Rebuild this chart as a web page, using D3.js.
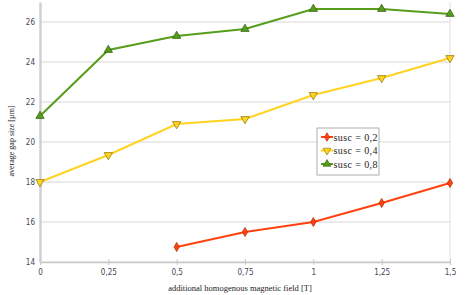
<!DOCTYPE html>
<html>
<head>
<meta charset="utf-8">
<script src="https://cdn.jsdelivr.net/npm/d3@7"></script>
<style>
body { margin: 0; background: #fff; }
</style>
</head>
<body>
<svg id="chart" width="465" height="295"></svg>
<script>
const fields = [0, 0.25, 0.5, 0.75, 1, 1.25, 1.5];
const xTickLabels = ["0", "0,25", "0,5", "0,75", "1", "1,25", "1,5"];
const yTicks = [14, 16, 18, 20, 22, 24, 26];
const susc02 = [null, null, 14.75, 15.5, 16, 16.95, 17.95];
const susc04 = [18, 19.35, 20.9, 21.15, 22.35, 23.2, 24.2];
const susc08 = [21.3, 24.6, 25.3, 25.65, 26.65, 26.65, 26.4];
const seriesNames = ["susc = 0,2", "susc = 0,4", "susc = 0,8"];
const colors = ["#ff420e", "#ffd320", "#579d1c"];
const strokes = ["#b02a05", "#8a7000", "#2e5a0c"];

let svg = d3.select("#chart");
let padding = { top: 2, right: 15, bottom: 33, left: 40 };
let width = +svg.attr("width");
let height = +svg.attr("height");

let xScale = d3.scaleLinear()
    .domain([0, 1.5])
    .range([padding.left, width - padding.right]);
let yScale = d3.scaleLinear()
    .domain([14, 27])
    .range([height - padding.bottom, padding.top]);

// grid
svg.append("g")
    .selectAll("line")
    .data(yTicks)
    .enter()
    .append("line")
      .attr("x1", padding.left)
      .attr("x2", width - padding.right)
      .attr("y1", d => yScale(d))
      .attr("y2", d => yScale(d))
      .attr("stroke", "#d6d6d6")
      .attr("stroke-width", 1);

svg.append("line")
    .attr("x1", xScale(1.5)).attr("x2", xScale(1.5))
    .attr("y1", yScale(27)).attr("y2", yScale(14))
    .attr("stroke", "#e0e0e0");

let xAxis = d3.axisBottom(xScale)
    .tickValues(fields)
    .tickFormat((d, i) => xTickLabels[i])
    .tickSize(3)
    .tickSizeOuter(0);
let gx = svg.append("g")
    .attr("transform", "translate(0," + yScale(14) + ")")
    .call(xAxis);
gx.select(".domain").attr("stroke", "#c8c8c8").attr("stroke-width", 1.5);
gx.selectAll(".tick line").attr("stroke", "#c8c8c8").attr("y1", -3).attr("y2", 3);
gx.selectAll("text")
    .attr("fill", "#445")
    .attr("dy", "0.9em")
    .style("font-family", "DejaVu Sans Condensed, DejaVu Sans")
    .style("font-size", "8px");

let yAxis = d3.axisLeft(yScale)
    .tickValues(yTicks)
    .tickSize(0)
    .tickPadding(5);
let gy = svg.append("g")
    .attr("transform", "translate(" + padding.left + ",0)")
    .call(yAxis);
gy.select(".domain").attr("stroke", "#d0d0d0").attr("stroke-width", 2.5);
gy.selectAll("text")
    .attr("fill", "#445")
    .style("font-family", "DejaVu Sans Condensed, DejaVu Sans")
    .style("font-size", "8px");

// axis titles
svg.append("text")
    .attr("x", 240)
    .attr("y", 291)
    .style("text-anchor", "middle")
    .style("font-family", "Liberation Serif")
    .style("font-size", "8.5px")
    .attr("fill", "#222")
    .text("additional homogenous magnetic field [T]");

svg.append("text")
    .attr("transform", "rotate(-90)")
    .attr("x", -141)
    .attr("y", 14)
    .style("text-anchor", "middle")
    .style("font-family", "Liberation Serif")
    .style("font-size", "8px")
    .attr("fill", "#222")
    .text("average gap size [µm]");

// series
let allSeries = [susc02, susc04, susc08];
let symbols = [d3.symbolDiamond, d3.symbolTriangle, d3.symbolTriangle];
let rotations = [0, 180, 0];

let line = d3.line()
    .defined(d => d[1] != null)
    .x(d => xScale(d[0]))
    .y(d => yScale(d[1]));

allSeries.forEach(function(vals, s) {
    let pts = fields.map((f, i) => [f, vals[i]]);
    svg.append("path")
        .datum(pts)
        .attr("fill", "none")
        .attr("stroke", colors[s])
        .attr("stroke-width", 2)
        .attr("d", line);
    svg.append("g")
        .selectAll("path")
        .data(pts.filter(d => d[1] != null))
        .enter()
        .append("path")
          .attr("d", d3.symbol().type(symbols[s]).size(s == 0 ? 24 : 30))
          .attr("transform", d => "translate(" + xScale(d[0]) + "," + yScale(d[1]) + ") rotate(" + rotations[s] + ")")
          .attr("fill", colors[s])
          .attr("stroke", strokes[s])
          .attr("stroke-width", 0.7);
});

// legend
let legend = svg.append("g").attr("transform", "translate(317,128)");
legend.append("rect")
    .attr("width", 62)
    .attr("height", 47)
    .attr("fill", "#fff")
    .attr("stroke", "#999")
    .attr("stroke-width", 0.8);
seriesNames.forEach(function(name, s) {
    let y = 9 + s * 13.5;
    legend.append("line")
        .attr("x1", 4).attr("x2", 16)
        .attr("y1", y).attr("y2", y)
        .attr("stroke", colors[s])
        .attr("stroke-width", 2);
    legend.append("path")
        .attr("d", d3.symbol().type(symbols[s]).size(s == 0 ? 22 : 26))
        .attr("transform", "translate(10," + y + ") rotate(" + rotations[s] + ")")
        .attr("fill", colors[s])
        .attr("stroke", strokes[s])
        .attr("stroke-width", 0.6);
    legend.append("text")
        .attr("x", 16.5)
        .attr("y", y)
        .attr("dy", "0.35em")
        .style("font-family", "Liberation Serif")
        .style("font-size", "10px")
        .style("letter-spacing", "0.4px")
        .attr("fill", "#222")
        .text(name);
});
</script>
</body>
</html>
